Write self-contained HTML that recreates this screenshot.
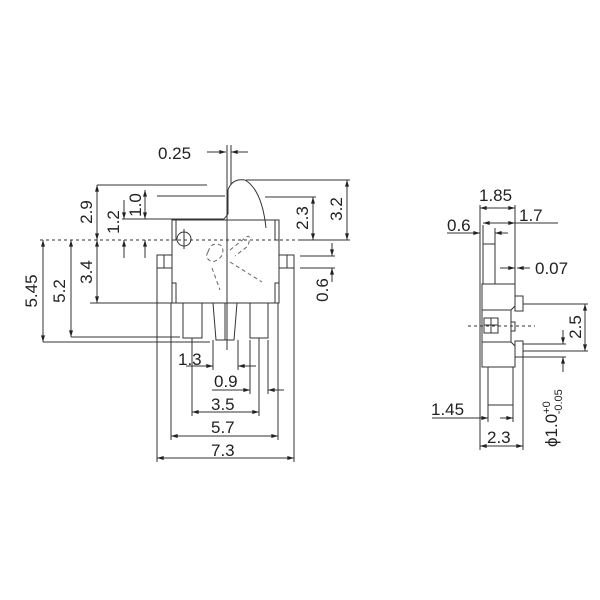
<!DOCTYPE html>
<html><head><meta charset="utf-8"><style>
html,body{margin:0;padding:0;background:#fff;width:600px;height:600px;overflow:hidden}
svg text{font-family:"Liberation Sans",sans-serif;font-size:17px;fill:#222}
</style></head><body>
<svg width="600" height="600" viewBox="0 0 600 600" xmlns="http://www.w3.org/2000/svg">
<defs><marker id="a" viewBox="0 0 10 6" refX="10" refY="3" markerWidth="7" markerHeight="4" orient="auto-start-reverse"><path d="M0,0L10,3L0,6z" fill="#222"/></marker></defs>
<g stroke="#333" stroke-width="1" fill="none">
<rect x="172" y="220" width="107" height="83"/>
<rect x="172" y="220" width="4" height="20"/><rect x="275" y="220" width="4" height="20"/>
<rect x="172" y="283" width="4" height="20"/><rect x="275" y="283" width="4" height="20"/>
<rect x="157" y="255" width="15" height="13"/><line x1="164" y1="255" x2="164" y2="268"/>
<rect x="279" y="255" width="15" height="13"/><line x1="287" y1="255" x2="287" y2="268"/>
<rect x="183" y="303" width="19" height="35"/>
<path d="M213,303L237,303L234,340L216,340Z"/><line x1="225" y1="303" x2="225" y2="340"/>
<rect x="250" y="303" width="18" height="35"/>
<circle cx="184" cy="239" r="7"/><line x1="184" y1="229" x2="184" y2="249"/>
<path d="M143,219L224,219L228,214L228,190Q232,178 245,180Q262,190 266,228"/>
<g stroke-dasharray="4,3" stroke="#666">
<path d="M208,252Q212,240 222,246Q226,258 212,262Q204,258 208,252"/>
<path d="M230,250L245,238Q252,232 248,246L235,256"/>
<path d="M230,262L262,282"/><path d="M212,268L220,290"/>
</g>
<line x1="40" y1="240" x2="300" y2="240" stroke-dasharray="3,3"/>
<line x1="227" y1="145" x2="227" y2="350"/>
<line x1="231" y1="145" x2="231" y2="185"/>
<line x1="207" y1="152" x2="226" y2="152" marker-end="url(#a)"/>
<line x1="248" y1="152" x2="231" y2="152" marker-end="url(#a)"/>
<line x1="97" y1="185" x2="207" y2="185"/>
<line x1="97" y1="185" x2="97" y2="240" marker-start="url(#a)" marker-end="url(#a)"/>
<line x1="97" y1="240" x2="97" y2="303" marker-start="url(#a)" marker-end="url(#a)"/>
<line x1="90" y1="303" x2="172" y2="303"/>
<line x1="124" y1="200" x2="124" y2="219" marker-end="url(#a)"/>
<line x1="124" y1="258" x2="124" y2="240" marker-end="url(#a)"/>
<line x1="122" y1="219" x2="160" y2="219"/>
<line x1="157" y1="196" x2="225" y2="196"/>
<line x1="145" y1="190" x2="145" y2="219" marker-start="url(#a)" marker-end="url(#a)"/>
<line x1="145" y1="258" x2="145" y2="240" marker-end="url(#a)"/>
<line x1="43" y1="240" x2="43" y2="342" marker-start="url(#a)" marker-end="url(#a)"/>
<line x1="71" y1="240" x2="71" y2="337" marker-start="url(#a)" marker-end="url(#a)"/>
<line x1="71" y1="337" x2="180" y2="337"/>
<line x1="43" y1="342" x2="210" y2="342"/>
<line x1="246" y1="180" x2="350" y2="180"/>
<line x1="347" y1="180" x2="347" y2="240" marker-start="url(#a)" marker-end="url(#a)"/>
<line x1="300" y1="240" x2="350" y2="240"/>
<line x1="313" y1="197" x2="313" y2="240" marker-start="url(#a)" marker-end="url(#a)"/>
<line x1="265" y1="197" x2="316" y2="197"/>
<line x1="300" y1="256" x2="335" y2="256"/><line x1="300" y1="268" x2="335" y2="268"/>
<line x1="332" y1="243" x2="332" y2="256" marker-end="url(#a)"/>
<line x1="332" y1="282" x2="332" y2="268" marker-end="url(#a)"/>
<line x1="157" y1="268" x2="157" y2="462"/><line x1="294" y1="268" x2="294" y2="462"/>
<line x1="171" y1="303" x2="171" y2="440"/><line x1="278" y1="303" x2="278" y2="440"/>
<line x1="192" y1="338" x2="192" y2="416"/><line x1="259" y1="338" x2="259" y2="416"/>
<line x1="213" y1="340" x2="213" y2="370"/><line x1="238" y1="340" x2="238" y2="370"/>
<line x1="250" y1="340" x2="250" y2="394"/><line x1="268" y1="340" x2="268" y2="394"/>
<line x1="186" y1="366" x2="213" y2="366" marker-end="url(#a)"/>
<line x1="256" y1="366" x2="238" y2="366" marker-end="url(#a)"/>
<line x1="212" y1="390" x2="250" y2="390" marker-end="url(#a)"/>
<line x1="284" y1="390" x2="268" y2="390" marker-end="url(#a)"/>
<line x1="192" y1="412" x2="259" y2="412" marker-start="url(#a)" marker-end="url(#a)"/>
<line x1="171" y1="436" x2="278" y2="436" marker-start="url(#a)" marker-end="url(#a)"/>
<line x1="157" y1="458" x2="294" y2="458" marker-start="url(#a)" marker-end="url(#a)"/>
<rect x="483" y="244" width="12" height="40"/>
<path d="M482,284L515,284L515,306L511,310L511,342L515,346L515,367L482,367Z"/>
<line x1="482" y1="310" x2="511" y2="310"/><line x1="482" y1="342" x2="511" y2="342"/>
<rect x="484" y="318" width="14" height="15"/><line x1="491" y1="318" x2="491" y2="333"/><line x1="484" y1="325" x2="498" y2="325"/>
<rect x="511" y="322" width="4" height="9"/>
<rect x="515" y="296" width="8" height="15"/><rect x="515" y="341" width="8" height="16"/>
<rect x="488" y="367" width="25" height="38"/>
<line x1="468" y1="326" x2="535" y2="326" stroke-dasharray="3,3"/>
<line x1="480" y1="205" x2="480" y2="450"/><line x1="515" y1="205" x2="515" y2="284"/>
<line x1="523" y1="357" x2="523" y2="450"/>
<line x1="480" y1="208" x2="515" y2="208" marker-start="url(#a)" marker-end="url(#a)"/>
<line x1="483" y1="223" x2="515" y2="223" marker-start="url(#a)" marker-end="url(#a)"/>
<line x1="515" y1="223" x2="558" y2="223"/>
<line x1="447" y1="233" x2="480" y2="233" marker-end="url(#a)"/>
<line x1="483" y1="225" x2="483" y2="244"/><line x1="495" y1="228" x2="495" y2="244"/>
<line x1="508" y1="233" x2="495" y2="233" marker-end="url(#a)"/>
<line x1="500" y1="268" x2="515" y2="268" marker-end="url(#a)"/>
<line x1="530" y1="268" x2="517" y2="268" marker-end="url(#a)"/>
<line x1="523" y1="304" x2="588" y2="304"/><line x1="523" y1="351" x2="588" y2="351"/>
<line x1="585" y1="304" x2="585" y2="351" marker-start="url(#a)" marker-end="url(#a)"/>
<line x1="523" y1="344" x2="566" y2="344"/>
<line x1="563" y1="330" x2="563" y2="344" marker-end="url(#a)"/>
<line x1="563" y1="372" x2="563" y2="357" marker-end="url(#a)"/>
<line x1="523" y1="357" x2="566" y2="357"/>
<line x1="432" y1="418" x2="488" y2="418" marker-end="url(#a)"/>
<line x1="488" y1="405" x2="488" y2="422"/><line x1="513" y1="405" x2="513" y2="422"/>
<line x1="513" y1="418" x2="500" y2="418" marker-start="url(#a)"/>
<line x1="480" y1="446" x2="523" y2="446" marker-start="url(#a)" marker-end="url(#a)"/>
</g>
<text x="158" y="159">0.25</text>
<text transform="translate(92,212) rotate(-90)" text-anchor="middle">2.9</text>
<text transform="translate(92,272) rotate(-90)" text-anchor="middle">3.4</text>
<text transform="translate(119,222) rotate(-90)" text-anchor="middle">1.2</text>
<text transform="translate(141,205) rotate(-90)" text-anchor="middle">1.0</text>
<text transform="translate(37,291) rotate(-90)" text-anchor="middle">5.45</text>
<text transform="translate(65,291) rotate(-90)" text-anchor="middle">5.2</text>
<text transform="translate(308,218) rotate(-90)" text-anchor="middle">2.3</text>
<text transform="translate(342,209) rotate(-90)" text-anchor="middle">3.2</text>
<text transform="translate(328,290) rotate(-90)" text-anchor="middle">0.6</text>
<text x="178" y="365">1.3</text>
<text x="214" y="387">0.9</text>
<text x="211" y="410">3.5</text>
<text x="211" y="433">5.7</text>
<text x="211" y="456">7.3</text>
<text x="479" y="201">1.85</text>
<text x="519" y="221">1.7</text>
<text x="447" y="231">0.6</text>
<text x="535" y="274">0.07</text>
<text transform="translate(581,327) rotate(-90)" text-anchor="middle">2.5</text>
<text x="431" y="415">1.45</text>
<text x="487" y="443">2.3</text>
<text transform="translate(557,447) rotate(-90)">ϕ1.0<tspan font-size="11" dy="-7">+0</tspan><tspan font-size="11" dx="-13" dy="12">-0.05</tspan></text>
</svg>
</body></html>
